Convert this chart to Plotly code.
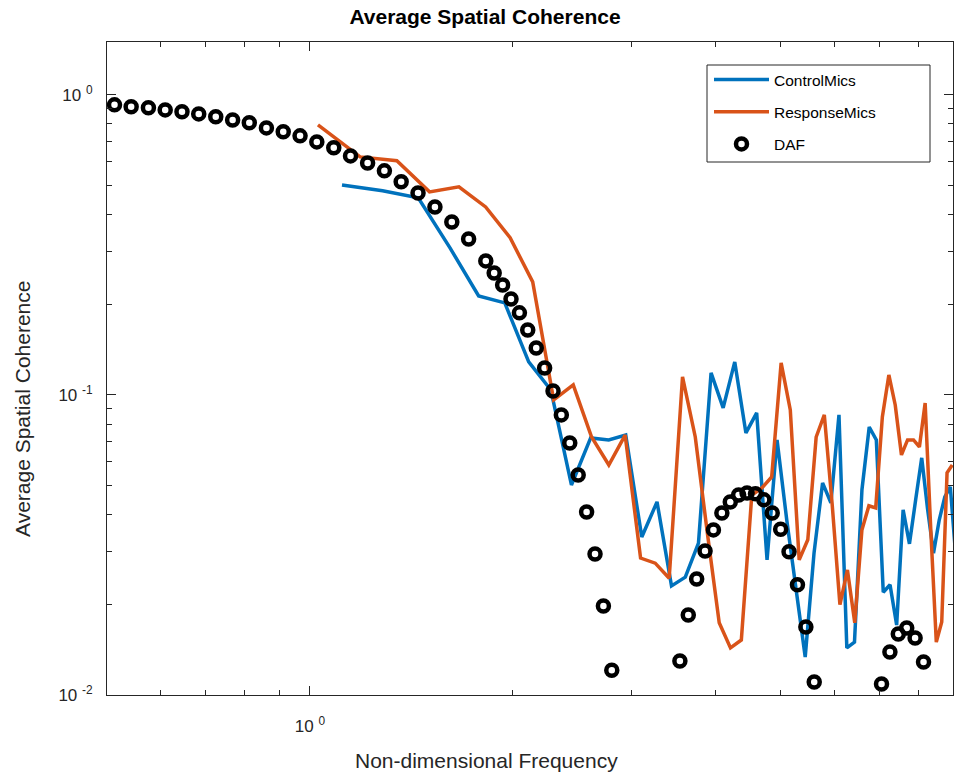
import math
import plotly.graph_objects as go

# ---------------- data ----------------
daf_x = [0.513, 0.543, 0.576, 0.610, 0.646, 0.684, 0.725, 0.768, 0.813, 0.862, 0.913,
         0.967, 1.024, 1.085, 1.149, 1.218, 1.290, 1.366, 1.447, 1.533, 1.624, 1.720,
         1.824, 1.877, 1.932, 1.988, 2.046, 2.105, 2.167, 2.230, 2.295, 2.361, 2.430,
         2.501, 2.574, 2.649, 2.726, 2.805,
         3.540, 3.643, 3.749, 3.858, 3.970, 4.086, 4.205, 4.327, 4.453, 4.583, 4.716,
         4.853, 4.995, 5.140, 5.290, 5.444, 5.602,
         7.050, 7.255, 7.466, 7.684, 7.907, 8.138]
daf_y = [0.926, 0.912, 0.905, 0.891, 0.878, 0.864, 0.845, 0.825, 0.807, 0.776, 0.753,
         0.730, 0.697, 0.666, 0.626, 0.593, 0.558, 0.513, 0.471, 0.423, 0.377, 0.331,
         0.2797, 0.255, 0.2326, 0.2089, 0.1877, 0.1647, 0.1434, 0.1230, 0.1031, 0.0858,
         0.0692, 0.0541, 0.0407, 0.0295, 0.0198, 0.0121,
         0.01298, 0.01848, 0.02436, 0.0302, 0.0355, 0.0404, 0.0440, 0.0464, 0.0471,
         0.0468, 0.0447, 0.0404, 0.0357, 0.0300, 0.0233, 0.01686, 0.01105,
         0.01088, 0.01391, 0.01597, 0.01672, 0.01549, 0.01288]

control_x = [1.116, 1.282, 1.448, 1.614, 1.780, 1.946, 2.112, 2.278, 2.444, 2.610,
             2.776, 2.942, 3.108, 3.274, 3.440, 3.606, 3.772, 3.938, 4.104, 4.270,
             4.436, 4.602, 4.768, 4.934, 5.100, 5.266, 5.432, 5.598, 5.764, 5.930,
             6.096, 6.262, 6.428, 6.594, 6.760, 6.926, 7.092, 7.258, 7.424, 7.590,
             7.756, 7.922, 8.088, 8.254, 8.420, 8.586, 8.752, 8.918, 9.084]
control_y = [0.501, 0.479, 0.4535, 0.309, 0.2138, 0.2026, 0.1288, 0.1039, 0.0501, 0.0719,
             0.0708, 0.0735, 0.0336, 0.0440, 0.0231, 0.0247, 0.0321, 0.1184, 0.0905, 0.1288,
             0.0747, 0.0871, 0.0282, 0.0708, 0.0383, 0.0224, 0.01338, 0.0297, 0.0509, 0.0437,
             0.0858, 0.01435, 0.0150, 0.0483, 0.0782, 0.0708, 0.0220, 0.0233, 0.0171, 0.0414,
             0.0319, 0.0447, 0.0617, 0.0414, 0.0297, 0.0383, 0.0457, 0.0494, 0.0291]

response_x = [1.028, 1.187, 1.346, 1.505, 1.664, 1.823, 1.982, 2.141, 2.300, 2.459,
              2.618, 2.777, 2.936, 3.095, 3.254, 3.413, 3.572, 3.731, 3.890, 4.049,
              4.208, 4.367, 4.526, 4.685, 4.844, 5.003, 5.162, 5.321, 5.480, 5.639,
              5.798, 5.957, 6.116, 6.275, 6.434, 6.593, 6.752, 6.911, 7.070, 7.229,
              7.388, 7.547, 7.706, 7.865, 8.024, 8.183, 8.342, 8.501, 8.660, 8.819, 8.978]
response_y = [0.794, 0.621, 0.603, 0.475, 0.494, 0.423, 0.334, 0.238, 0.0962, 0.108,
              0.0724, 0.0584, 0.0735, 0.0286, 0.0275, 0.0245, 0.1148, 0.0724, 0.0344, 0.0174,
              0.01435, 0.01525, 0.0464, 0.0490, 0.0533, 0.1279, 0.0891, 0.0282, 0.0329, 0.0724,
              0.0858, 0.0430, 0.0200, 0.0261, 0.0174, 0.0355, 0.0427, 0.0420, 0.0845, 0.1166,
              0.0926, 0.0631, 0.0708, 0.0708, 0.0671, 0.0940, 0.0355, 0.0150, 0.0175, 0.0550,
              0.0584]

x_major = [1]
x_major_text = ["10 <sup>0</sup>"]
x_minor = [0.6, 0.7, 0.8, 0.9, 2, 3, 4, 5, 6, 7, 8, 9]
y_major = [0.01, 0.1, 1]
y_major_text = ["10 <sup>-2</sup>", "10 <sup>-1</sup>", "10 <sup>0</sup>"]
y_minor = [0.02, 0.03, 0.04, 0.05, 0.06, 0.07, 0.08, 0.09,
           0.2, 0.3, 0.4, 0.5, 0.6, 0.7, 0.8, 0.9]

FONT = "Liberation Sans, Arial, Helvetica, sans-serif"
AX = "#262626"

W, H = 959, 774
L, R, T, B = 107, 6, 42, 79
PW, PH = W - L - R, H - T - B


def px_x(p):
    return (p - L) / PW


def px_y(p):
    return (H - B - p) / PH


fig = go.Figure()
fig.add_trace(go.Scatter(x=control_x, y=control_y, mode="lines", name="ControlMics",
                         line=dict(color="#0072BD", width=3.5), legendgroup="a"))
fig.add_trace(go.Scatter(x=response_x, y=response_y, mode="lines", name="ResponseMics",
                         line=dict(color="#D95319", width=3.5), legendgroup="b"))
fig.add_trace(go.Scatter(x=daf_x, y=daf_y, mode="markers", name="DAF", cliponaxis=False,
                         marker=dict(symbol="circle-open", size=11, color="black",
                                     line=dict(width=4.5, color="black")),
                         legendgroup="c"))

axis_common = dict(type="log", showgrid=False, zeroline=False, showline=True,
                   linecolor=AX, linewidth=1, mirror="allticks", ticks="inside",
                   ticklen=9, tickwidth=1, tickcolor=AX, tickmode="array",
                   tickfont=dict(family=FONT, size=17, color=AX))

fig.update_xaxes(**axis_common, range=[math.log10(0.5), math.log10(9)],
                 tickvals=x_major, ticktext=x_major_text, ticklabelstandoff=16,
                 minor=dict(tickmode="array", tickvals=x_minor, ticks="inside",
                            ticklen=5, tickcolor=AX, tickwidth=1))
fig.update_yaxes(**axis_common, range=[-2, math.log10(1.5)],
                 tickvals=y_major, ticktext=y_major_text, ticklabelstandoff=10,
                 minor=dict(tickmode="array", tickvals=y_minor, ticks="inside",
                            ticklen=5, tickcolor=AX, tickwidth=1))

fig.update_layout(
    width=W, height=H, autosize=False,
    margin=dict(l=L, r=R, t=T, b=B, pad=0),
    paper_bgcolor="white", plot_bgcolor="white",
    font=dict(family=FONT, color=AX),
    title=dict(text="<b>Average Spatial Coherence</b>", x=485 / W, xanchor="center",
               y=1 - 17 / H, yanchor="middle",
               font=dict(family=FONT, size=21, color="black")),
    legend=dict(x=px_x(709), y=px_y(63), xanchor="left", yanchor="top",
                bgcolor="rgba(0,0,0,0)", borderwidth=0,
                font=dict(family=FONT, size=15.5, color="black"),
                traceorder="grouped", tracegroupgap=9, itemwidth=55),
    shapes=[dict(type="rect", xref="paper", yref="paper", layer="above",
                 x0=px_x(707), x1=px_x(930), y0=px_y(162), y1=px_y(65),
                 fillcolor="white", line=dict(color=AX, width=1))],
    annotations=[
        dict(text="Non-dimensional Frequency", x=px_x(486), y=px_y(760),
             xref="paper", yref="paper", xanchor="center", yanchor="middle",
             showarrow=False, font=dict(family=FONT, size=21, color=AX)),
        dict(text="Average Spatial Coherence", x=px_x(22), y=px_y(409),
             xref="paper", yref="paper", xanchor="center", yanchor="middle",
             textangle=-90, showarrow=False, font=dict(family=FONT, size=21, color=AX)),
    ],
)

fig.write_html("out.html")
